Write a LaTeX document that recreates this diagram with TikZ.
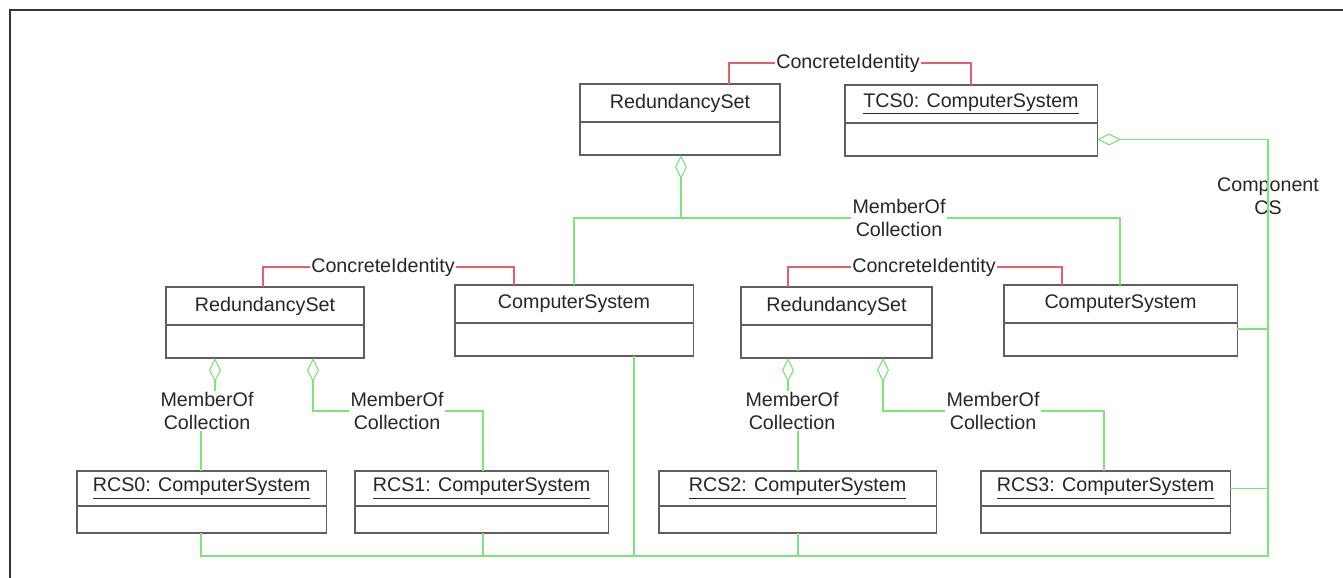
\documentclass[tikz,border=0pt]{standalone}
\usepackage{fontspec}
\setmainfont{Liberation Sans}
\usepackage{tikz}
\usetikzlibrary{arrows.meta,positioning}

\definecolor{boxgray}{RGB}{95,95,95}
\definecolor{aggreen}{RGB}{125,228,125}
\definecolor{cired}{RGB}{232,92,112}

\begin{document}
\begin{tikzpicture}[
  x=0.025cm, y=-0.025cm,
  hdr/.style={draw=boxgray, line width=0.8pt, minimum height=0.95cm,
              inner sep=0pt, outer sep=0pt, anchor=north west,
              text=black!85, font=\fontsize{14}{16.3}\selectfont},
  body/.style={draw=boxgray, line width=0.8pt, minimum height=0.825cm,
               inner sep=0pt, outer sep=0pt},
  lbl/.style={inner sep=1pt, align=center, text=black!85,
              font=\fontsize{14}{16.3}\selectfont},
  ci/.style={draw=cired, line width=0.9pt},
  mem/.style={draw=aggreen, line width=0.9pt},
  agg/.style={mem, {Diamond[open,length=0.6cm,width=0.3cm,line width=0.8pt]}-},
  frame/.style={line width=1.6pt, black!80}
]
  \useasboundingbox (0,0) rectangle (1343,578);
  \draw[frame] (10,578) -- (10,10) -- (1343,10);

  % top row
  \node[hdr, minimum width=5cm] (rsTop) at (580,84) {RedundancySet};
  \node[body, minimum width=5cm, below=0pt of rsTop] (rsTop-b) {};
  \node[hdr, minimum width=6.3cm] (tcs0) at (845,85) {\underline{TCS0: ComputerSystem}};
  \node[body, minimum width=6.3cm, below=0pt of tcs0] (tcs0-b) {};

  % middle row
  \node[hdr, minimum width=4.95cm] (rsL) at (166,287) {RedundancySet};
  \node[body, minimum width=4.95cm, below=0pt of rsL] (rsL-b) {};
  \node[hdr, minimum width=5.95cm] (csL) at (455,285) {ComputerSystem};
  \node[body, minimum width=5.95cm, below=0pt of csL] (csL-b) {};
  \node[hdr, minimum width=4.775cm] (rsR) at (741,287) {RedundancySet};
  \node[body, minimum width=4.775cm, below=0pt of rsR] (rsR-b) {};
  \node[hdr, minimum width=5.825cm] (csR) at (1004,285) {ComputerSystem};
  \node[body, minimum width=5.825cm, below=0pt of csR] (csR-b) {};

  % bottom row
  \node[hdr, minimum width=6.225cm, minimum height=0.875cm] (rcs0) at (77,471) {\underline{RCS0: ComputerSystem}};
  \node[body, minimum width=6.225cm, minimum height=0.675cm, below=0pt of rcs0] (rcs0-b) {};
  \node[hdr, minimum width=6.325cm, minimum height=0.875cm] (rcs1) at (355,471) {\underline{RCS1: ComputerSystem}};
  \node[body, minimum width=6.325cm, minimum height=0.675cm, below=0pt of rcs1] (rcs1-b) {};
  \node[hdr, minimum width=6.925cm, minimum height=0.875cm] (rcs2) at (659,471) {\underline{RCS2: ComputerSystem}};
  \node[body, minimum width=6.925cm, minimum height=0.675cm, below=0pt of rcs2] (rcs2-b) {};
  \node[hdr, minimum width=6.225cm, minimum height=0.875cm] (rcs3) at (981,471) {\underline{RCS3: ComputerSystem}};
  \node[body, minimum width=6.225cm, minimum height=0.675cm, below=0pt of rcs3] (rcs3-b) {};

  % association labels
  \node[lbl] (ciTop) at (848,63) {ConcreteIdentity};
  \node[lbl] (ciL) at (383,267) {ConcreteIdentity};
  \node[lbl] (ciR) at (924,267) {ConcreteIdentity};
  \node[lbl] (mTop) at (899,218) {MemberOf\\Collection};
  \node[lbl] (mL1) at (207,411) {MemberOf\\Collection};
  \node[lbl] (mL2) at (397,411) {MemberOf\\Collection};
  \node[lbl] (mR1) at (792,411) {MemberOf\\Collection};
  \node[lbl] (mR2) at (993,411) {MemberOf\\Collection};
  \node[lbl] (compCS) at (1268,196) {Component\\CS};

  % ConcreteIdentity
  \draw[ci] (729,0 |- rsTop.north) |- (ciTop.west);
  \draw[ci] (ciTop.east) -| (971,0 |- tcs0.north);
  \draw[ci] (263,0 |- rsL.north) |- (ciL.west);
  \draw[ci] (ciL.east) -| (514,0 |- csL.north);
  \draw[ci] (788,0 |- rsR.north) |- (ciR.west);
  \draw[ci] (ciR.east) -| (1062,0 |- csR.north);

  % MemberOfCollection
  \draw[agg] (681,0 |- rsTop-b.south) -- (681,0 |- mTop.west);
  \draw[mem] (mTop.west) -| (574,0 |- csL.north);
  \draw[mem] (mTop.east) -| (1120,0 |- csR.north);
  \draw[agg] (215,0 |- rsL-b.south) -- (215,0 |- mL1.north);
  \draw[mem] (201,0 |- mL1.south) -- (201,0 |- rcs0.north);
  \draw[agg] (313,0 |- rsL-b.south) |- (mL2.west);
  \draw[mem] (mL2.east) -| (483,0 |- rcs1.north);
  \draw[agg] (788,0 |- rsR-b.south) -- (788,0 |- mR1.north);
  \draw[mem] (798,0 |- mR1.south) -- (798,0 |- rcs2.north);
  \draw[agg] (883,0 |- rsR-b.south) |- (mR2.west);
  \draw[mem] (mR2.east) -| (1104,0 |- rcs3.north);

  % ComponentCS
  \coordinate (bus) at (1268,556);
  \draw[agg, line width=1.3pt] (tcs0-b.east) -| (bus) -| (634,0 |- csL-b.south);
  \draw[mem] (201,0 |- rcs0-b.south) |- (bus);
  \draw[mem] (483,0 |- rcs1-b.south) -- (483,0 |- bus);
  \draw[mem] (798,0 |- rcs2-b.south) -- (798,0 |- bus);
  \draw[mem] ([yshift=-0.15cm]csR-b.north east) -| (bus);
  \draw[mem] (rcs3.east) -| (bus);
\end{tikzpicture}
\end{document}
